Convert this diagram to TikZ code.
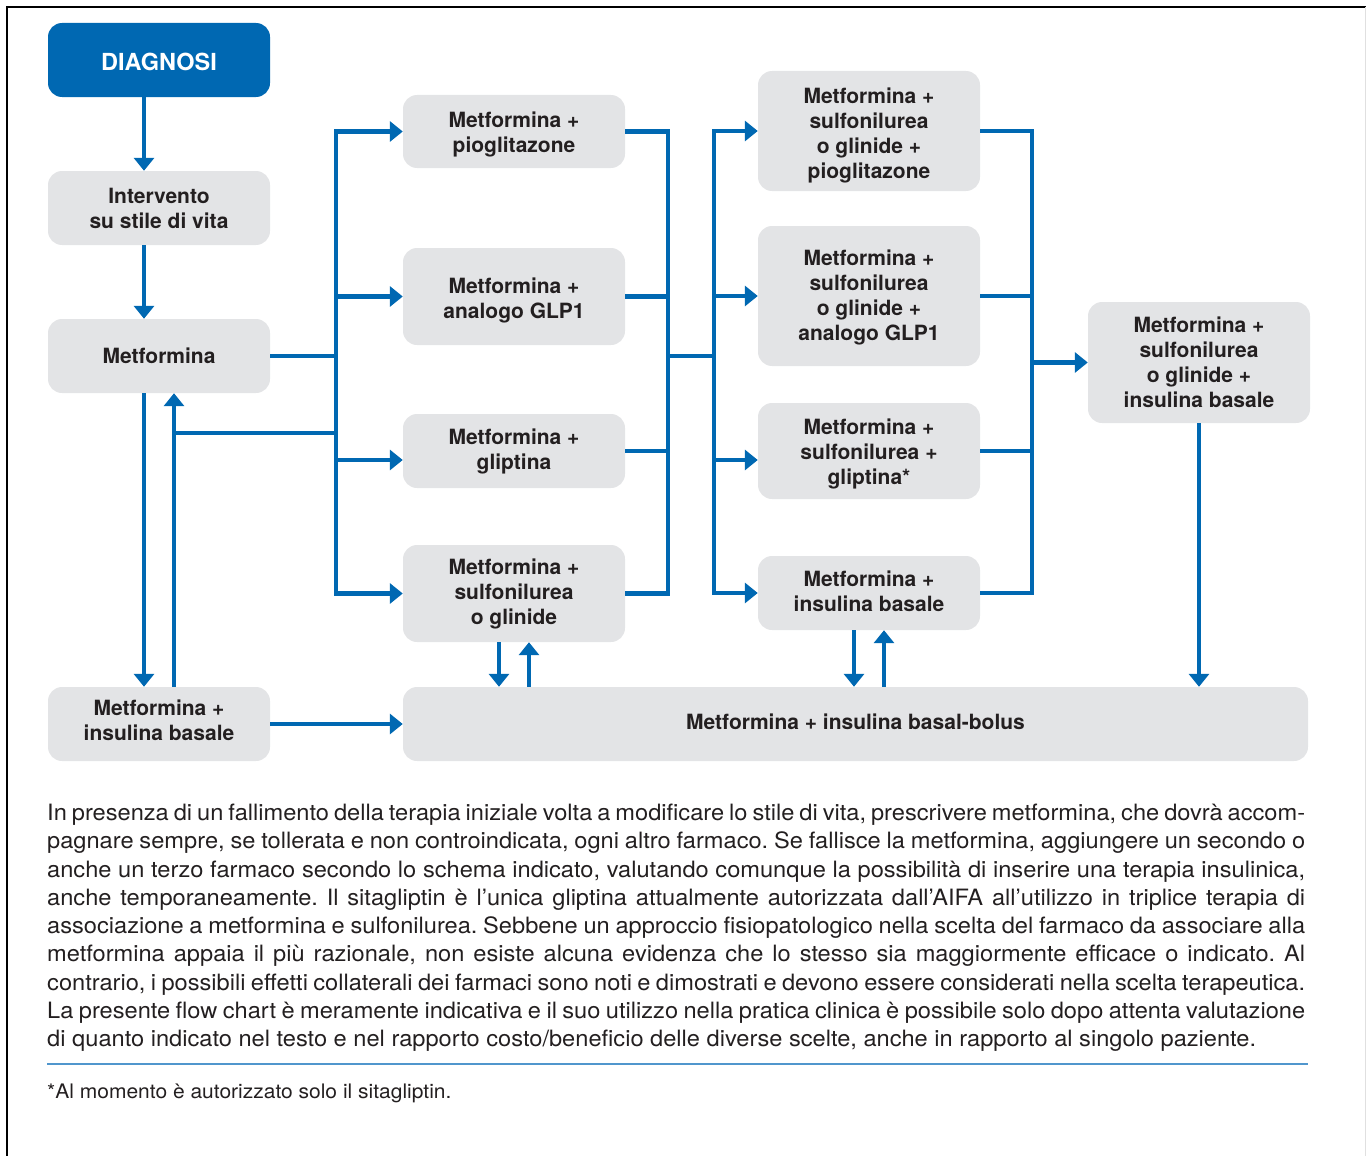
\documentclass[tikz,border=0pt]{standalone}
\usepackage{fontspec}
\setmainfont{TeX Gyre Heros}
\newfontfamily\parafont[FakeStretch=1.05]{TeX Gyre Heros}
\usetikzlibrary{arrows.meta}
\definecolor{fcblue}{RGB}{0,104,178}
\definecolor{fcgray}{RGB}{227,228,230}
\definecolor{fctext}{RGB}{35,31,32}
\definecolor{fcrule}{RGB}{80,150,205}
\newcommand{\hstrut}[1]{\rule{0pt}{#1}}
\newcommand{\dstrut}[1]{\rule[-#1]{0pt}{0pt}}
\frenchspacing
\begin{document}
\begin{tikzpicture}[x=1pt,y=-1pt,
  box/.style={rectangle, rounded corners=14pt, fill=fcgray, text=fctext, minimum width=222pt,
    inner sep=0pt, align=center, font=\fontsize{21}{25}\selectfont\bfseries},
  diagbox/.style={box, fill=fcblue, text=white, font=\fontsize{23.5}{28}\selectfont\bfseries},
  conn/.style={draw=fcblue, line width=4.5pt},
  arr/.style={conn, -{Triangle[length=13pt,width=20pt]}},
  ptext/.style={inner sep=0pt, text=fctext, font=\parafont\fontsize{22.5}{28.25}\selectfont},
]
\useasboundingbox (0,0) rectangle (1366,1156);
% frame
\draw[black, line width=1.5pt] (7,1156) -- (7,7) -- (1366,7);
\draw[black!12, line width=1pt] (1365.5,7) -- (1365.5,1156);

% nodes
\node[diagbox, minimum height=74pt] (diag) at (159,60) {\hstrut{21pt}DIAGNOSI};
\node[box, minimum height=74pt] (stile) at (159,208) {Intervento\\su stile di vita};
\node[box, minimum height=74pt] (metf) at (159,356) {Metformina};
\node[box, minimum height=74pt] (metfins) at (159,724) {Metformina +\\insulina basale\dstrut{7pt}};
\node[box, minimum height=73pt] (c2a) at (514,131.5) {\hstrut{21.5pt}Metformina +\\pioglitazone};
\node[box, minimum height=97pt] (c2b) at (514,296.5) {\hstrut{23pt}Metformina +\\analogo GLP1};
\node[box, minimum height=74pt] (c2c) at (514,451) {Metformina +\\gliptina};
\node[box, minimum height=97pt] (c2d) at (514,593.5) {Metformina +\\sulfonilurea\\o glinide};
\node[box, minimum height=120pt] (c3a) at (869,131) {\hstrut{24pt}Metformina +\\sulfonilurea\\o glinide +\\pioglitazone};
\node[box, minimum height=140pt] (c3b) at (869,296) {\hstrut{19.5pt}Metformina +\\sulfonilurea\\o glinide +\\analogo GLP1};
\node[box, minimum height=96pt] (c3c) at (869,451) {\hstrut{21.5pt}Metformina +\\sulfonilurea +\\gliptina*};
\node[box, minimum height=74pt] (c3d) at (869,593) {Metformina +\\insulina basale\dstrut{4pt}};
\node[box, minimum height=121pt] (c4) at (1199,362.5) {Metformina +\\sulfonilurea\\o glinide +\\insulina basale};
\node[box, minimum width=905pt, minimum height=74pt] (bolus) at (855.5,724) {Metformina + insulina basal-bolus\dstrut{4pt}};

% helper coordinates
\coordinate (b1) at (336,356);
\coordinate (b2) at (668,356);
\coordinate (b3) at (714,356);
\coordinate (b4) at (1032,362.5);
\coordinate (j1) at (174,433);
\coordinate (j2) at (336,433);
\coordinate (d1) at ([xshift=-15pt]c2d.south);
\coordinate (u1) at ([xshift=15pt]c2d.south);
\coordinate (d2) at ([xshift=-15pt]c3d.south);
\coordinate (u2) at ([xshift=15pt]c3d.south);

% left column
\draw[arr] ([xshift=-15pt]diag.south) -- ([xshift=-15pt]stile.north);
\draw[arr] ([xshift=-15pt]stile.south) -- ([xshift=-15pt]metf.north);
\draw[arr] ([xshift=-15pt]metf.south) -- ([xshift=-15pt]metfins.north);
\draw[arr] ([xshift=15pt]metfins.north) -- ([xshift=15pt]metf.south);
\draw[conn] (j2) -- (j1);
\draw[arr] (metfins.east) -- (bolus.west);

% bus 1
\draw[conn] (metf.east) -- (b1);
\draw[arr] (b1) |- (c2a.west);
\draw[arr] (b1) |- (c2b.west);
\draw[arr] (b1) |- ([yshift=-9pt]c2c.west);
\draw[arr] (b1) |- (c2d.west);

% bus 2 / 3
\draw[conn] (c2a.east) -| (b2);
\draw[conn] (c2b.east) -| (b2);
\draw[conn] (c2c.east) -| (b2);
\draw[conn] (c2d.east) -| (b2);
\draw[conn] (b2) -- (b3);
\draw[arr] (b3) |- (c3a.west);
\draw[arr] (b3) |- (c3b.west);
\draw[arr] (b3) |- ([yshift=-9pt]c3c.west);
\draw[arr] (b3) |- (c3d.west);

% bus 4
\draw[conn] (c3a.east) -| (b4);
\draw[conn] (c3b.east) -| (b4);
\draw[conn] (c3c.east) -| (b4);
\draw[conn] (c3d.east) -| (b4);
\draw[arr] (b4) -- (c4.west);
\draw[arr] (c4.south) -- (c4.south |- bolus.north);

% to / from basal-bolus
\draw[arr] (d1) -- (d1 |- bolus.north);
\draw[arr] (u1 |- bolus.north) -- (u1);
\draw[arr] (d2) -- (d2 |- bolus.north);
\draw[arr] (u2 |- bolus.north) -- (u2);

% text
\node[ptext, anchor=north west, align=left] (para) at (47,804) {%
\makebox[1258pt][s]{In presenza di un fallimento della terapia iniziale volta a modificare lo stile di vita, prescrivere metformina, che dovrà accom-}\\
\makebox[1258pt][s]{pagnare sempre, se tollerata e non controindicata, ogni altro farmaco. Se fallisce la metformina, aggiungere un secondo o}\\
\makebox[1258pt][s]{anche un terzo farmaco secondo lo schema indicato, valutando comunque la possibilità di inserire una terapia insulinica,}\\
\makebox[1258pt][s]{anche temporaneamente. Il sitagliptin è l’unica gliptina attualmente autorizzata dall’AIFA all’utilizzo in triplice terapia di}\\
\makebox[1258pt][s]{associazione a metformina e sulfonilurea. Sebbene un approccio fisiopatologico nella scelta del farmaco da associare alla}\\
\makebox[1258pt][s]{metformina appaia il più razionale, non esiste alcuna evidenza che lo stesso sia maggiormente efficace o indicato. Al}\\
\makebox[1258pt][s]{contrario, i possibili effetti collaterali dei farmaci sono noti e dimostrati e devono essere considerati nella scelta terapeutica.}\\
\makebox[1258pt][s]{La presente flow chart è meramente indicativa e il suo utilizzo nella pratica clinica è possibile solo dopo attenta valutazione}\\
di quanto indicato nel testo e nel rapporto costo/beneficio delle diverse scelte, anche in rapporto al singolo paziente.};
\draw[fcrule, line width=2pt] (47,1064) -- (1308,1064);
\node[ptext, anchor=base west, font=\parafont\fontsize{20}{24}\selectfont] (fn) at (47,1098) {*Al momento è autorizzato solo il sitagliptin.};
\end{tikzpicture}
\end{document}
